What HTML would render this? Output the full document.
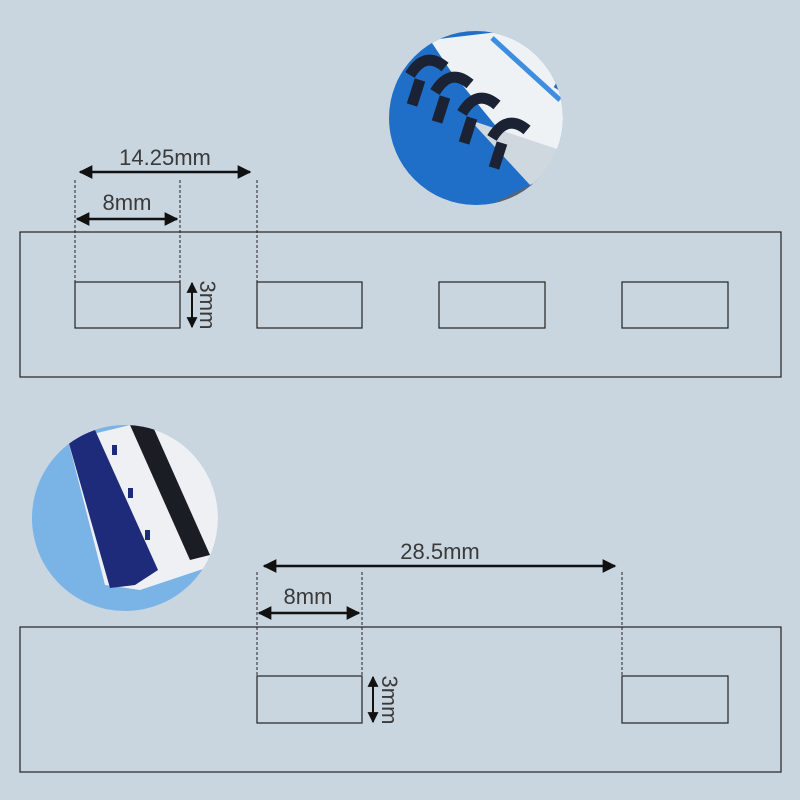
<!DOCTYPE html>
<html><head><meta charset="utf-8"><style>
html,body{margin:0;padding:0;background:#c9d6e0;}
svg{display:block}
text{font-family:"Liberation Sans",sans-serif;fill:#3a3a3a;}
</style></head><body>
<svg width="800" height="800" viewBox="0 0 800 800" xmlns="http://www.w3.org/2000/svg">
<defs>
<marker id="a" viewBox="0 0 10 10" refX="9" refY="5" markerWidth="6" markerHeight="5.5" orient="auto-start-reverse"><path d="M0,0 L10,5 L0,10 z" fill="#111"/></marker>
<clipPath id="c1"><circle cx="476" cy="118" r="87"/></clipPath>
<clipPath id="c2"><circle cx="125" cy="518" r="93"/></clipPath>
</defs>
<rect width="800" height="800" fill="#c9d6e0"/>

<g clip-path="url(#c1)">
<rect x="380" y="20" width="200" height="200" fill="#1f6fc8"/>
<polygon points="430,40 600,20 600,200 540,180 450,70" fill="#eef2f5"/>
<polygon points="470,120 560,150 560,180 530,185" fill="#cfd8df"/>
<line x1="492" y1="38" x2="560" y2="100" stroke="#3d8ee0" stroke-width="5"/>
<line x1="555" y1="85" x2="580" y2="100" stroke="#1f6fc8" stroke-width="5"/>
<g fill="none" stroke="#1b2233" stroke-width="11">
<path d="M410,75 q15,-25 35,-8"/><path d="M435,92 q15,-25 35,-8"/><path d="M462,113 q15,-25 35,-8"/><path d="M492,138 q15,-25 35,-8"/>
<path d="M420,80 l-8,25"/><path d="M445,97 l-8,25"/><path d="M472,118 l-8,25"/><path d="M502,143 l-8,25"/>
</g>
<polygon points="470,215 560,170 560,220 470,220" fill="#5a6370"/>
</g>

<g clip-path="url(#c2)">
<rect x="25" y="420" width="200" height="200" fill="#7ab3e6"/>
<polygon points="68,440 130,425 210,400 230,560 140,590 105,585" fill="#eef0f3"/>
<polygon points="68,440 95,430 158,570 135,585 110,588" fill="#1e2a7a"/>
<polygon points="130,425 150,420 210,555 190,560" fill="#1a1d24"/>
<rect x="112" y="445" width="5" height="10" fill="#1e2a7a"/>
<rect x="128" y="488" width="5" height="10" fill="#1e2a7a"/>
<rect x="145" y="530" width="5" height="10" fill="#1e2a7a"/>
</g>

<g fill="none" stroke="#222" stroke-width="1.2">
<rect x="20" y="232" width="761" height="145"/>
<rect x="75" y="282" width="105" height="46"/>
<rect x="257" y="282" width="105" height="46"/>
<rect x="439" y="282" width="106" height="46"/>
<rect x="622" y="282" width="106" height="46"/>
<rect x="20" y="627" width="761" height="145"/>
<rect x="257" y="676" width="105" height="47"/>
<rect x="622" y="676" width="106" height="47"/>
</g>
<g stroke="#222" stroke-width="1" stroke-dasharray="3,2">
<line x1="75" y1="180" x2="75" y2="282"/><line x1="180" y1="180" x2="180" y2="282"/><line x1="257" y1="180" x2="257" y2="282"/>
<line x1="257" y1="572" x2="257" y2="676"/><line x1="362" y1="572" x2="362" y2="676"/><line x1="622" y1="572" x2="622" y2="676"/>
</g>
<g stroke="#111" stroke-width="2.5">
<line x1="80" y1="172" x2="250" y2="172" marker-start="url(#a)" marker-end="url(#a)"/>
<line x1="77" y1="219" x2="177" y2="219" marker-start="url(#a)" marker-end="url(#a)"/>
<line x1="192" y1="283" x2="192" y2="327" stroke-width="2" marker-start="url(#a)" marker-end="url(#a)"/>
<line x1="264" y1="566" x2="615" y2="566" marker-start="url(#a)" marker-end="url(#a)"/>
<line x1="259" y1="613" x2="359" y2="613" marker-start="url(#a)" marker-end="url(#a)"/>
<line x1="373" y1="677" x2="373" y2="722" stroke-width="2" marker-start="url(#a)" marker-end="url(#a)"/>
</g>
<text x="165" y="165" font-size="22" text-anchor="middle">14.25mm</text>
<text x="127" y="210" font-size="22" text-anchor="middle">8mm</text>
<text x="200" y="305" font-size="22" text-anchor="middle" transform="rotate(90 200 305)">3mm</text>
<text x="440" y="559" font-size="22" text-anchor="middle">28.5mm</text>
<text x="308" y="604" font-size="22" text-anchor="middle">8mm</text>
<text x="382" y="700" font-size="22" text-anchor="middle" transform="rotate(90 382 700)">3mm</text>
</svg>
</body></html>
